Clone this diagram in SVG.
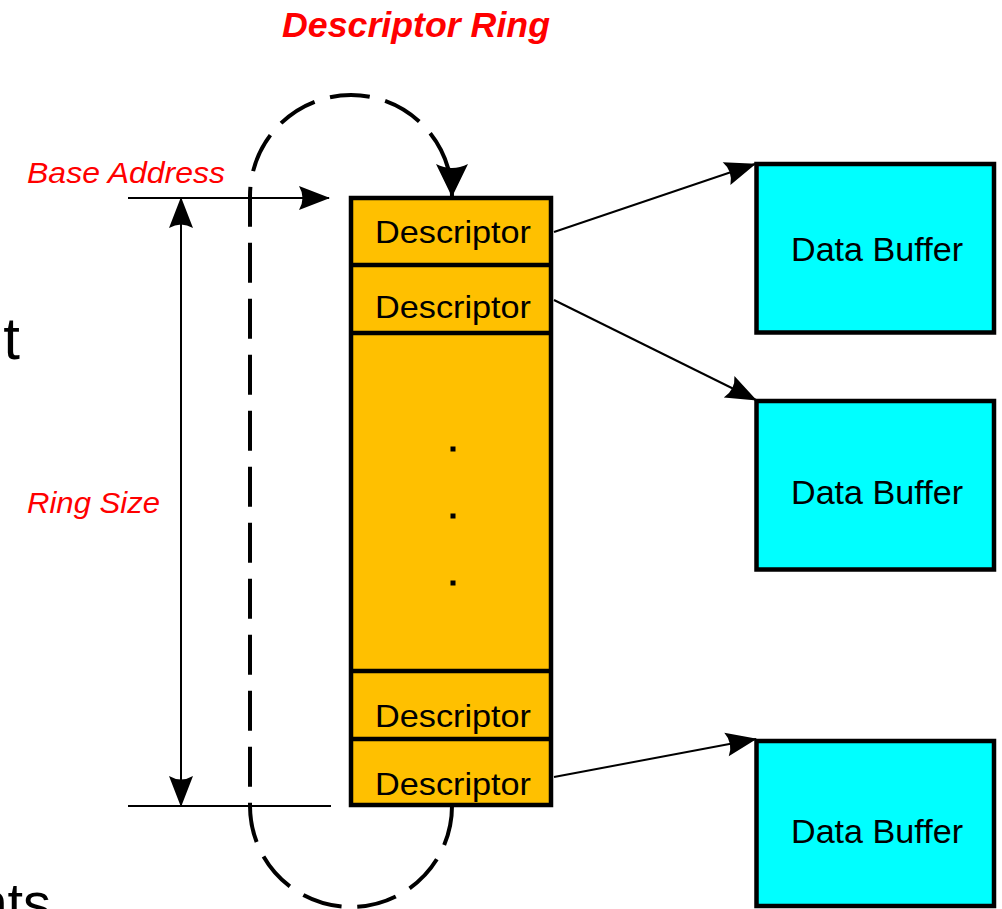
<svg xmlns="http://www.w3.org/2000/svg" width="1002" height="909" viewBox="0 0 1002 909">
  <style>
    .lbl { font-family: "Liberation Sans", Arial, sans-serif; fill: #000; }
    .red { font-family: "Liberation Sans", Arial, sans-serif; fill: #FF0000; font-style: italic; }
    .desc { fill: #FFC000; stroke: #000; stroke-width: 4.5; }
    .buf { fill: #00FFFF; stroke: #000; stroke-width: 4.5; }
    .conn { stroke: #000; stroke-width: 2; fill: none; }
  </style>
  <defs>
    <marker id="ah" markerUnits="userSpaceOnUse" markerWidth="32" markerHeight="24" refX="30" refY="12" orient="auto" overflow="visible">
      <path d="M0,0 L31,12 L0,24 Q7,12 0,0 z" fill="#000"/>
    </marker>
    <marker id="ahs" markerUnits="userSpaceOnUse" markerWidth="32" markerHeight="24" refX="1" refY="12" orient="auto" overflow="visible">
      <path d="M31,0 L0,12 L31,24 Q24,12 31,0 z" fill="#000"/>
    </marker>
    <marker id="ahb" markerUnits="userSpaceOnUse" markerWidth="34" markerHeight="32" refX="32" refY="16" orient="auto" overflow="visible">
      <path d="M0,0 L33,16 L0,32 Q8,16 0,0 z" fill="#000"/>
    </marker>
  </defs>

  <rect width="1002" height="909" fill="#fff"/>

  <!-- partial slide text fragments -->
  <text class="lbl" x="20" y="359" font-size="60" text-anchor="end">t</text>
  <text class="lbl" x="51" y="922" font-size="56" text-anchor="end">nts</text>

  <text id="title" class="red" x="416" y="37" font-size="35" font-weight="bold" text-anchor="middle" textLength="268" lengthAdjust="spacingAndGlyphs">Descriptor Ring</text>

  <g id="labels">
    <text class="red" x="27" y="183" font-size="30" textLength="198" lengthAdjust="spacingAndGlyphs">Base Address</text>
    <text class="red" x="27" y="513" font-size="30" textLength="133" lengthAdjust="spacingAndGlyphs">Ring Size</text>
  </g>

  <g id="ring">
    <rect class="desc" x="351" y="198" width="200" height="607"/>
    <line x1="351" y1="265" x2="551" y2="265" stroke="#000" stroke-width="4.5"/>
    <line x1="351" y1="333" x2="551" y2="333" stroke="#000" stroke-width="4.5"/>
    <line x1="351" y1="671" x2="551" y2="671" stroke="#000" stroke-width="4.5"/>
    <line x1="351" y1="739" x2="551" y2="739" stroke="#000" stroke-width="4.5"/>
    <g id="desc1"><text class="lbl" x="453" y="243" font-size="32" text-anchor="middle" textLength="156" lengthAdjust="spacingAndGlyphs">Descriptor</text></g>
    <g id="desc2"><text class="lbl" x="453" y="318" font-size="32" text-anchor="middle" textLength="156" lengthAdjust="spacingAndGlyphs">Descriptor</text></g>
    <g id="dots">
      <rect x="450.5" y="446.5" width="5" height="5" fill="#000"/>
      <rect x="450.5" y="513.5" width="5" height="5" fill="#000"/>
      <rect x="450.5" y="580.5" width="5" height="5" fill="#000"/>
    </g>
    <g id="desc3"><text class="lbl" x="453" y="727" font-size="32" text-anchor="middle" textLength="156" lengthAdjust="spacingAndGlyphs">Descriptor</text></g>
    <g id="desc4"><text class="lbl" x="453" y="795" font-size="32" text-anchor="middle" textLength="156" lengthAdjust="spacingAndGlyphs">Descriptor</text></g>
  </g>

  <g id="buffer1">
    <rect class="buf" x="756.5" y="164" width="237.5" height="168.5"/>
    <text class="lbl" x="877" y="261" font-size="33" text-anchor="middle" textLength="172" lengthAdjust="spacingAndGlyphs">Data Buffer</text>
  </g>
  <g id="buffer2">
    <rect class="buf" x="756.5" y="401" width="237.5" height="168.5"/>
    <text class="lbl" x="877" y="504" font-size="33" text-anchor="middle" textLength="172" lengthAdjust="spacingAndGlyphs">Data Buffer</text>
  </g>
  <g id="buffer3">
    <rect class="buf" x="756.5" y="741" width="237.5" height="165"/>
    <text class="lbl" x="877" y="843" font-size="33" text-anchor="middle" textLength="172" lengthAdjust="spacingAndGlyphs">Data Buffer</text>
  </g>

  <g id="connectors">
    <line class="conn" x1="554" y1="232" x2="755" y2="164" marker-end="url(#ah)"/>
    <line class="conn" x1="554" y1="300" x2="756" y2="400" marker-end="url(#ah)"/>
    <line class="conn" x1="554" y1="777" x2="756" y2="739" marker-end="url(#ah)"/>
    <line class="conn" x1="128" y1="198" x2="329" y2="198" marker-end="url(#ah)"/>
    <line class="conn" x1="128" y1="806" x2="331" y2="806"/>
    <line class="conn" x1="181" y1="198" x2="181" y2="806" marker-start="url(#ahs)" marker-end="url(#ah)"/>
    <path d="M452,806 A101,101 0 0 1 250,806 L250,196 A101,101 0 0 1 452,196" fill="none" stroke="#000" stroke-width="4" stroke-dasharray="40 16" marker-end="url(#ahb)"/>
  </g>
</svg>
